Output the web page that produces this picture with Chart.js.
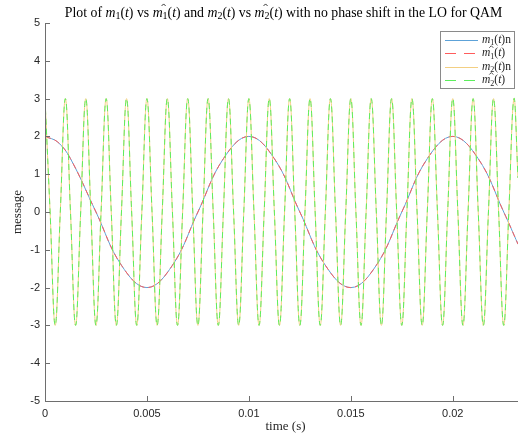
<!DOCTYPE html>
<html>
<head>
<meta charset="utf-8">
<script src="https://cdn.jsdelivr.net/npm/chart.js@4.4.0/dist/chart.umd.min.js"></script>
<style>
  html, body { margin: 0; padding: 0; background: #fff; }
  #wrap { width: 518px; height: 436px; }
</style>
</head>
<body>
<div id="wrap"><canvas id="chart" width="518" height="436"></canvas></div>
<script>
// m1(t): read every eighth of a period off the picture (extra point near the start peak)
const m1Time = [
    0, 0.000625, 0.00125, 0.0025, 0.00375, 0.005, 0.00625, 0.0075, 0.00875,
    0.01, 0.01125, 0.0125, 0.01375, 0.015, 0.01625, 0.0175, 0.01875,
    0.02, 0.02125, 0.0225, 0.0232
];
const m1Values = [
    2, 1.85, 1.41, 0, -1.41, -2, -1.41, 0, 1.41,
    2, 1.41, 0, -1.41, -2, -1.41, 0, 1.41,
    2, 1.41, 0, -0.85
];
const m1HatValues = m1Values.slice();

// m2(t): 1 ms period, read at quarter periods
const m2Time = [
    0, 0.00025, 0.0005, 0.00075,
    0.001, 0.00125, 0.0015, 0.00175,
    0.002, 0.00225, 0.0025, 0.00275,
    0.003, 0.00325, 0.0035, 0.00375,
    0.004, 0.00425, 0.0045, 0.00475,
    0.005, 0.00525, 0.0055, 0.00575,
    0.006, 0.00625, 0.0065, 0.00675,
    0.007, 0.00725, 0.0075, 0.00775,
    0.008, 0.00825, 0.0085, 0.00875,
    0.009, 0.00925, 0.0095, 0.00975,
    0.010, 0.01025, 0.0105, 0.01075,
    0.011, 0.01125, 0.0115, 0.01175,
    0.012, 0.01225, 0.0125, 0.01275,
    0.013, 0.01325, 0.0135, 0.01375,
    0.014, 0.01425, 0.0145, 0.01475,
    0.015, 0.01525, 0.0155, 0.01575,
    0.016, 0.01625, 0.0165, 0.01675,
    0.017, 0.01725, 0.0175, 0.01775,
    0.018, 0.01825, 0.0185, 0.01875,
    0.019, 0.01925, 0.0195, 0.01975,
    0.020, 0.02025, 0.0205, 0.02075,
    0.021, 0.02125, 0.0215, 0.02175,
    0.022, 0.02225, 0.0225, 0.02275,
    0.023, 0.0232
];
const m2Values = [
    3, 0, -3, 0,  3, 0, -3, 0,  3, 0, -3, 0,  3, 0, -3, 0,
    3, 0, -3, 0,  3, 0, -3, 0,  3, 0, -3, 0,  3, 0, -3, 0,
    3, 0, -3, 0,  3, 0, -3, 0,  3, 0, -3, 0,  3, 0, -3, 0,
    3, 0, -3, 0,  3, 0, -3, 0,  3, 0, -3, 0,  3, 0, -3, 0,
    3, 0, -3, 0,  3, 0, -3, 0,  3, 0, -3, 0,  3, 0, -3, 0,
    3, 0, -3, 0,  3, 0, -3, 0,  3, 0, -3, 0,
    3, 0.9
];
const m2HatValues = m2Values.slice();

const xTicks = [0, 0.005, 0.01, 0.015, 0.02];
const xTickLabels = ['0', '0.005', '0.01', '0.015', '0.02'];
const yTicks = [-5, -4, -3, -2, -1, 0, 1, 2, 3, 4, 5];
const yTickLabels = ['-5', '-4', '-3', '-2', '-1', '0', '1', '2', '3', '4', '5'];

// thin MATLAB lines look paler than their nominal colours
const seriesColors = { m1: '#5da2d8', m1hat: '#ff5c5c', m2: '#f3cf82', m2hat: '#5cee5c' };
const SERIF = '"Liberation Serif", "DejaVu Serif", serif';
const SANS = '"Liberation Sans", Arial, sans-serif';
const AXIS_COLOR = '#6e6e6e';

function toPoints(times, values) {
    return times.map((t, i) => ({ x: t, y: values[i] }));
}

// draw text runs: 'r' roman, 'i' italic, 's' subscript, 'h' italic with hat
function drawRich(ctx, runs, x, y, size, align) {
    const fontFor = k => {
        if (k === 'i' || k === 'h') return `italic ${size}px ${SERIF}`;
        if (k === 's') return `${Math.round(size * 0.72)}px ${SERIF}`;
        return `${size}px ${SERIF}`;
    };
    let total = 0;
    const widths = runs.map(([txt, k]) => {
        ctx.font = fontFor(k);
        const w = ctx.measureText(txt).width;
        total += w;
        return w;
    });
    let cx = align === 'center' ? x - total / 2 : x;
    ctx.textAlign = 'left';
    ctx.textBaseline = 'middle';
    runs.forEach(([txt, k], i) => {
        ctx.font = fontFor(k);
        const dy = k === 's' ? size * 0.28 : 0;
        ctx.fillText(txt, cx, y + dy);
        if (k === 'h') {
            const hx = cx + widths[i] + 1;
            const hy = y - size * 0.62;
            ctx.save();
            ctx.lineWidth = 0.8;
            ctx.strokeStyle = ctx.fillStyle;
            ctx.beginPath();
            ctx.moveTo(hx - 2, hy + 1.5);
            ctx.lineTo(hx, hy - 0.5);
            ctx.lineTo(hx + 2, hy + 1.5);
            ctx.stroke();
            ctx.restore();
        }
        cx += widths[i];
    });
    return total;
}

const decorPlugin = {
    id: 'decor',
    afterDraw(chart) {
        const ctx = chart.ctx;
        const area = chart.chartArea;
        const xs = chart.scales.x;
        const ys = chart.scales.y;
        ctx.save();

        // axes lines and inward ticks
        ctx.strokeStyle = AXIS_COLOR;
        ctx.lineWidth = 1;
        ctx.beginPath();
        ctx.moveTo(area.left + 0.5, area.top);
        ctx.lineTo(area.left + 0.5, area.bottom + 0.5);
        ctx.lineTo(area.right, area.bottom + 0.5);
        yTicks.forEach(v => {
            const py = Math.round(ys.getPixelForValue(v)) + 0.5;
            ctx.moveTo(area.left, py);
            ctx.lineTo(area.left + 5, py);
        });
        xTicks.forEach(v => {
            const px = Math.round(xs.getPixelForValue(v)) + 0.5;
            ctx.moveTo(px, area.bottom);
            ctx.lineTo(px, area.bottom - 5);
        });
        ctx.stroke();

        // title
        ctx.fillStyle = '#000';
        const cxm = (area.left + area.right) / 2 + 2;
        drawRich(ctx, [
            ['Plot of ', 'r'], ['m', 'i'], ['1', 's'], ['(', 'r'], ['t', 'i'], [') vs ', 'r'],
            ['m', 'h'], ['1', 's'], ['(', 'r'], ['t', 'i'], [') and ', 'r'],
            ['m', 'i'], ['2', 's'], ['(', 'r'], ['t', 'i'], [') vs ', 'r'],
            ['m', 'h'], ['2', 's'], ['(', 'r'], ['t', 'i'], [') with no phase shift in the LO for QAM', 'r']
        ], cxm, 13, 13.8, 'center');

        // axis titles
        ctx.fillStyle = '#262626';
        ctx.font = `13px ${SERIF}`;
        ctx.textAlign = 'center';
        ctx.textBaseline = 'middle';
        ctx.fillText('time (s)', cxm + 2, 427);
        ctx.save();
        ctx.translate(18, (area.top + area.bottom) / 2);
        ctx.rotate(-Math.PI / 2);
        ctx.fillText('message', 0, 0);
        ctx.restore();

        // legend
        const lx = 440.5, ly = 31.5, lw = 74, lh = 57;
        ctx.fillStyle = '#fff';
        ctx.fillRect(lx, ly, lw, lh);
        ctx.strokeStyle = '#8a8a8a';
        ctx.lineWidth = 1;
        ctx.strokeRect(lx, ly, lw, lh);
        const entries = [
            { c: seriesColors.m1, dash: [], runs: [['m', 'i'], ['1', 's'], ['(', 'r'], ['t', 'i'], [')n', 'r']] },
            { c: seriesColors.m1hat, dash: [11, 8], runs: [['m', 'h'], ['1', 's'], ['(', 'r'], ['t', 'i'], [')', 'r']] },
            { c: seriesColors.m2, dash: [], runs: [['m', 'i'], ['2', 's'], ['(', 'r'], ['t', 'i'], [')n', 'r']] },
            { c: seriesColors.m2hat, dash: [11, 8], runs: [['m', 'h'], ['2', 's'], ['(', 'r'], ['t', 'i'], [')', 'r']] }
        ];
        entries.forEach((e, i) => {
            const ry = 40 + i * 13.4;
            ctx.strokeStyle = e.c;
            ctx.setLineDash(e.dash);
            ctx.beginPath();
            ctx.moveTo(445, Math.round(ry) + 0.5);
            ctx.lineTo(478, Math.round(ry) + 0.5);
            ctx.stroke();
            ctx.setLineDash([]);
            ctx.fillStyle = '#222';
            drawRich(ctx, e.runs, 482, ry, 11.5, 'left');
        });

        ctx.restore();
    }
};

const ctx = document.getElementById('chart').getContext('2d');
const lineBase = { pointRadius: 0, borderWidth: 1, tension: 0.4, fill: false };

new Chart(ctx, {
    type: 'line',
    data: {
        datasets: [
            { ...lineBase, label: 'm1(t)n', data: toPoints(m1Time, m1Values), borderColor: seriesColors.m1, order: 3 },
            { ...lineBase, label: 'm1hat(t)', data: toPoints(m1Time, m1HatValues), borderColor: seriesColors.m1hat, borderDash: [6, 4], order: 2 },
            { ...lineBase, label: 'm2(t)n', data: toPoints(m2Time, m2Values), borderColor: seriesColors.m2, order: 1 },
            { ...lineBase, label: 'm2hat(t)', data: toPoints(m2Time, m2HatValues), borderColor: seriesColors.m2hat, borderDash: [6, 4], order: 0 }
        ]
    },
    options: {
        responsive: false,
        animation: false,
        layout: { padding: { top: 23, left: 0, right: 0, bottom: 0 } },
        scales: {
            x: {
                type: 'linear',
                min: 0,
                max: 0.0232,
                grid: { display: false, drawTicks: false },
                border: { display: false },
                afterFit: scale => { scale.height = 35; },
                afterBuildTicks: scale => { scale.ticks = xTicks.map(v => ({ value: v })); },
                ticks: {
                    padding: 6,
                    maxRotation: 0,
                    autoSkip: false,
                    color: '#262626',
                    font: { family: SANS, size: 11 },
                    callback: (v, i) => xTickLabels[i]
                }
            },
            y: {
                min: -5,
                max: 5,
                grid: { display: false, drawTicks: false },
                border: { display: false },
                afterFit: scale => { scale.width = 45; },
                afterBuildTicks: scale => { scale.ticks = yTicks.map(v => ({ value: v })); },
                ticks: {
                    padding: 5,
                    autoSkip: false,
                    color: '#262626',
                    font: { family: SANS, size: 11 },
                    callback: (v, i) => yTickLabels[i]
                }
            }
        },
        plugins: {
            legend: { display: false },
            tooltip: { enabled: false }
        }
    },
    plugins: [decorPlugin]
});
</script>
</body>
</html>
